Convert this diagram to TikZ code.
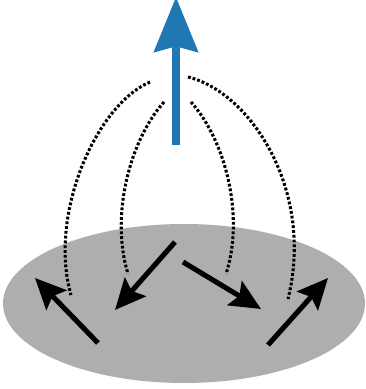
\documentclass[tikz,border=0pt]{standalone}
\usetikzlibrary{arrows.meta}
\definecolor{disc}{HTML}{AEAEAE}
\definecolor{bluearrow}{HTML}{1F77B4}
\tikzset{
  spin/.style={line width=3.8pt,draw=black,-{Stealth[length=23pt,width=21pt,inset=4pt]}},
  total/.style={line width=6.2pt,draw=bluearrow,-{Stealth[length=41pt,width=32.5pt,inset=4pt]}},
  link/.style={line width=2.3pt,draw=black,dash pattern=on 2.1pt off 1.5pt}
}
\begin{document}
\begin{tikzpicture}[x=0.75pt,y=-0.75pt]
\useasboundingbox (0,0) rectangle (365,389);
\clip (0,0) rectangle (365,389);
\fill[disc] (184,303.5) ellipse [x radius=181,y radius=79.5];
\coordinate (tb) at (176,145);
\coordinate (tt) at (176,-3);
\draw[total] (tb) -- (tt);
\coordinate (a1s) at (98,343); \coordinate (a1e) at (35,278);
\coordinate (a2s) at (175,242); \coordinate (a2e) at (115,310);
\coordinate (a3s) at (183,262); \coordinate (a3e) at (261,309);
\coordinate (a4s) at (268,345); \coordinate (a4e) at (328,278);
\draw[spin] (a1s) -- (a1e);
\draw[spin] (a2s) -- (a2e);
\draw[spin] (a3s) -- (a3e);
\draw[spin] (a4s) -- (a4e);
\coordinate (c1a) at (150,82); \coordinate (c1b) at (71,295);
\coordinate (c2a) at (164,102); \coordinate (c2b) at (128,274);
\coordinate (c3a) at (191,102); \coordinate (c3b) at (226,274);
\coordinate (c4a) at (188,77); \coordinate (c4b) at (288,299);
\draw[link] (c1a) .. controls (96,105) and (48,215) .. (c1b);
\draw[link] (c2a) .. controls (130,140) and (110,215) .. (c2b);
\draw[link] (c3a) .. controls (225,140) and (245,215) .. (c3b);
\draw[link] (c4a) .. controls (250,92) and (315,190) .. (c4b);
\end{tikzpicture}
\end{document}
